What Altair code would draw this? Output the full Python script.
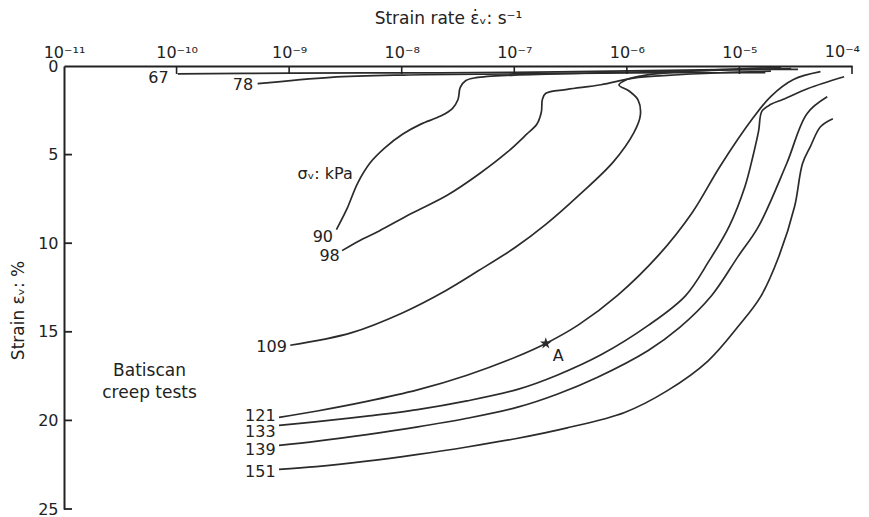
import json
import altair as alt
import pandas as pd

# ---- axis ticks ----
x_tick_exponents = [-11, -10, -9, -8, -7, -6, -5, -4]
x_tick_labels = ["10⁻¹¹", "10⁻¹⁰", "10⁻⁹", "10⁻⁸", "10⁻⁷", "10⁻⁶", "10⁻⁵", "10⁻⁴"]
x_inner_ticks = [-10, -9, -8, -7, -6, -5, -4]
y_ticks = [0, 5, 10, 15, 20, 25]
y_inner_ticks = [5, 10, 15, 20, 25]

# ---- curves: log10 strain rate (1/s) and strain (%) ----
c67_log = [-9.99, -8.98, -7.99, -7.00, -5.98, -5.17, -4.48]
c67_eps = [0.45, 0.40, 0.39, 0.36, 0.28, 0.21, 0.19]

c78_log = [-9.28, -8.63, -7.99, -7.00, -5.98, -4.77]
c78_eps = [1.00, 0.64, 0.51, 0.45, 0.39, 0.38]

c90_log = [-8.58, -8.49, -8.39, -8.28, -8.15, -7.99, -7.83, -7.66, -7.55, -7.50,
           -7.48, -7.43, -7.34, -7.00, -6.23, -5.34, -4.54]
c90_eps = [9.23, 8.11, 6.59, 5.46, 4.62, 3.84, 3.28, 2.84, 2.40, 1.89,
           1.21, 0.82, 0.66, 0.51, 0.38, 0.26, 0.14]

c98_log = [-8.53, -8.38, -8.20, -7.91, -7.60, -7.31, -7.06, -6.89, -6.80, -6.76,
           -6.75, -6.72, -6.53, -6.23, -5.94, -5.64, -5.17, -4.72]
c98_eps = [10.42, 9.87, 9.31, 8.31, 7.31, 6.08, 4.85, 3.85, 3.29, 2.61,
           1.88, 1.54, 1.32, 1.06, 0.68, 0.53, 0.38, 0.29]

c109_log = [-8.99, -8.45, -8.00, -7.61, -7.32, -6.99, -6.72, -6.42, -6.12, -5.94,
            -5.88, -5.90, -5.98, -6.07, -6.01, -5.88, -5.61, -5.17, -4.63]
c109_eps = [15.76, 15.06, 13.95, 12.68, 11.56, 10.23, 8.94, 7.26, 5.41, 3.79,
            2.77, 1.92, 1.41, 1.07, 0.79, 0.57, 0.36, 0.21, 0.07]

c121_log = [-9.09, -8.75, -8.31, -7.86, -7.42, -6.97, -6.72, -6.43, -6.08, -5.72,
            -5.42, -5.17, -4.88, -4.72, -4.52, -4.28]
c121_eps = [19.83, 19.47, 18.93, 18.28, 17.45, 16.38, 15.66, 14.61, 12.93, 10.69,
            8.28, 5.64, 2.94, 1.71, 0.76, 0.32]

c133_log = [-9.09, -8.75, -8.31, -7.86, -7.42, -6.97, -6.62, -6.23, -5.81, -5.48,
            -5.27, -5.09, -4.95, -4.88, -4.83, -4.80, -4.72, -4.61, -4.39, -4.07]
c133_eps = [20.28, 20.07, 19.76, 19.39, 18.90, 18.25, 17.45, 16.30, 14.64, 12.97,
            11.00, 9.03, 6.78, 5.09, 3.68, 2.55, 2.16, 1.88, 1.27, 0.61]

c139_log = [-9.09, -8.75, -8.31, -7.87, -7.42, -6.97, -6.62, -6.26, -5.81, -5.53,
            -5.25, -5.01, -4.83, -4.58, -4.40, -4.22]
c139_eps = [21.41, 21.17, 20.80, 20.38, 19.88, 19.25, 18.52, 17.56, 16.05, 14.75,
            12.98, 10.73, 9.05, 5.50, 2.69, 1.74]

c151_log = [-9.09, -8.76, -8.31, -7.87, -7.42, -6.98, -6.53, -6.02, -5.64, -5.28,
            -5.01, -4.81, -4.65, -4.51, -4.44, -4.37, -4.28, -4.17]
c151_eps = [22.76, 22.61, 22.30, 21.93, 21.50, 21.02, 20.42, 19.55, 18.32, 16.65,
            14.69, 13.00, 10.75, 7.93, 5.51, 4.55, 3.43, 2.98]

# ---- curve labels (sigma_v in kPa) ----
label_text = ["67", "78", "90", "98", "109", "121", "133", "139", "151"]
label_log = [-10.07, -9.32, -8.61, -8.55, -9.02, -9.12, -9.12, -9.12, -9.12]
label_eps = [0.67, 1.05, 9.63, 10.70, 15.87, 19.77, 20.67, 21.69, 22.93]

# ---- point A ----
point_a_log = [-6.72]
point_a_eps = [15.66]
point_a_text = ["A"]
point_a_text_log = [-6.61]
point_a_text_eps = [16.35]

# ---- other annotations ----
note_text = ["σᵥ: kPa"]
note_log = [-8.68]
note_eps = [6.12]
side_text = ["Batiscan", "creep tests"]
side_log = [-10.24, -10.24]
side_eps = [17.22, 18.46]

FONT = "DejaVu Sans"
INK = "#222222"
LINE = "#2b2b2b"

curves = [
    ("67", c67_log, c67_eps), ("78", c78_log, c78_eps), ("90", c90_log, c90_eps),
    ("98", c98_log, c98_eps), ("109", c109_log, c109_eps), ("121", c121_log, c121_eps),
    ("133", c133_log, c133_eps), ("139", c139_log, c139_eps), ("151", c151_log, c151_eps),
]
rows = []
for name, lg, ep in curves:
    for i, (a, b) in enumerate(zip(lg, ep)):
        rows.append({"curve": name, "idx": i, "rate": 10.0 ** a, "eps": b})
curve_df = pd.DataFrame(rows)

labels_df = pd.DataFrame({"text": label_text,
                          "rate": [10.0 ** v for v in label_log],
                          "eps": label_eps})
star_df = pd.DataFrame({"rate": [10.0 ** v for v in point_a_log], "eps": point_a_eps})
a_df = pd.DataFrame({"text": point_a_text,
                     "rate": [10.0 ** v for v in point_a_text_log],
                     "eps": point_a_text_eps})
notes_df = pd.DataFrame({"text": note_text,
                         "rate": [10.0 ** v for v in note_log],
                         "eps": note_eps})
side_df = pd.DataFrame({"text": side_text,
                        "rate": [10.0 ** v for v in side_log],
                        "eps": side_eps})
xt_df = pd.DataFrame({"rate": [10.0 ** v for v in x_inner_ticks]})
yt_df = pd.DataFrame({"eps": y_inner_ticks})
# last tick label drawn as a text mark so it can hug the right edge
last_label_df = pd.DataFrame({"rate": [10.0 ** x_tick_exponents[-1]],
                              "text": [x_tick_labels[-1]]})

axis_labels = x_tick_labels[:-1] + [""]
label_expr = (json.dumps(axis_labels, ensure_ascii=False)
              + "[round(log(datum.value)/LN10)+11]")

x_scale = alt.Scale(type="log", domain=[10.0 ** x_tick_exponents[0], 10.0 ** x_tick_exponents[-1]],
                    nice=False)
y_scale = alt.Scale(domain=[0, 25], reverse=True, nice=False)

x_axis = alt.Axis(
    orient="top", values=[10.0 ** v for v in x_tick_exponents], labelExpr=label_expr,
    ticks=False, grid=False, domain=True, domainColor=INK, domainWidth=2,
    labelFont=FONT, labelFontSize=16, labelColor=INK, labelPadding=6,
    labelFlush=False, labelOverlap=False,
    title="Strain rate ε̇ᵥ: s⁻¹", titleFont=FONT, titleFontSize=17,
    titleFontWeight="normal", titleColor=INK, titleX=384, titleY=-48,
    titleAlign="center", titleBaseline="middle",
)
y_axis = alt.Axis(
    values=y_ticks, ticks=False, grid=False, domain=True, domainColor=INK, domainWidth=2,
    labelFont=FONT, labelFontSize=16, labelColor=INK, labelPadding=6,
    labelFlush=False, labelOverlap=False,
    title="Strain εᵥ: %", titleFont=FONT, titleFontSize=17, titleFontWeight="normal",
    titleColor=INK, titleAngle=270, titleX=-46, titleY=244,
    titleAlign="center", titleBaseline="middle",
)

lines = alt.Chart(curve_df).mark_line(
    interpolate="catmull-rom", strokeWidth=1.7, color=LINE
).encode(
    x=alt.X("rate:Q", scale=x_scale, axis=x_axis),
    y=alt.Y("eps:Q", scale=y_scale, axis=y_axis),
    detail="curve:N",
    order="idx:Q",
)

xticks = alt.Chart(xt_df).mark_rule(color=INK, strokeWidth=1.6).encode(
    x=alt.X("rate:Q"), y=alt.value(0), y2=alt.value(8)
)
yticks = alt.Chart(yt_df).mark_rule(color=INK, strokeWidth=1.8).encode(
    y=alt.Y("eps:Q"), x=alt.value(0), x2=alt.value(8)
)

last_label = alt.Chart(last_label_df).mark_text(
    align="right", baseline="bottom", font=FONT, fontSize=16, color=INK, dx=8
).encode(x="rate:Q", y=alt.value(-6), text="text:N")

curve_labels = alt.Chart(labels_df).mark_text(
    align="right", baseline="middle", font=FONT, fontSize=16, color=INK
).encode(x="rate:Q", y="eps:Q", text="text:N")

star_path = ("M0,-1L0.2245,-0.309L0.951,-0.309L0.363,0.118L0.588,0.809L0,0.382"
             "L-0.588,0.809L-0.363,0.118L-0.951,-0.309L-0.2245,-0.309Z")
star = alt.Chart(star_df).mark_point(
    shape=star_path, size=150, filled=True, color=LINE, opacity=1
).encode(x="rate:Q", y="eps:Q")

a_label = alt.Chart(a_df).mark_text(
    align="center", baseline="middle", font=FONT, fontSize=16, color=INK
).encode(x="rate:Q", y="eps:Q", text="text:N")

notes = alt.Chart(notes_df).mark_text(
    align="center", baseline="middle", font=FONT, fontSize=16, color=INK
).encode(x="rate:Q", y="eps:Q", text="text:N")

side = alt.Chart(side_df).mark_text(
    align="center", baseline="middle", font=FONT, fontSize=17, color=INK
).encode(x="rate:Q", y="eps:Q", text="text:N")

chart = alt.layer(lines, xticks, yticks, last_label, curve_labels, star, a_label,
                  notes, side).properties(
    width=788, height=443,
    padding={"left": 56, "top": 58, "right": 9, "bottom": 8},
    autosize=alt.AutoSizeParams(type="none"),
).configure_view(stroke=None)

chart.save("out.html", embed_options={"renderer": "svg", "actions": False})
